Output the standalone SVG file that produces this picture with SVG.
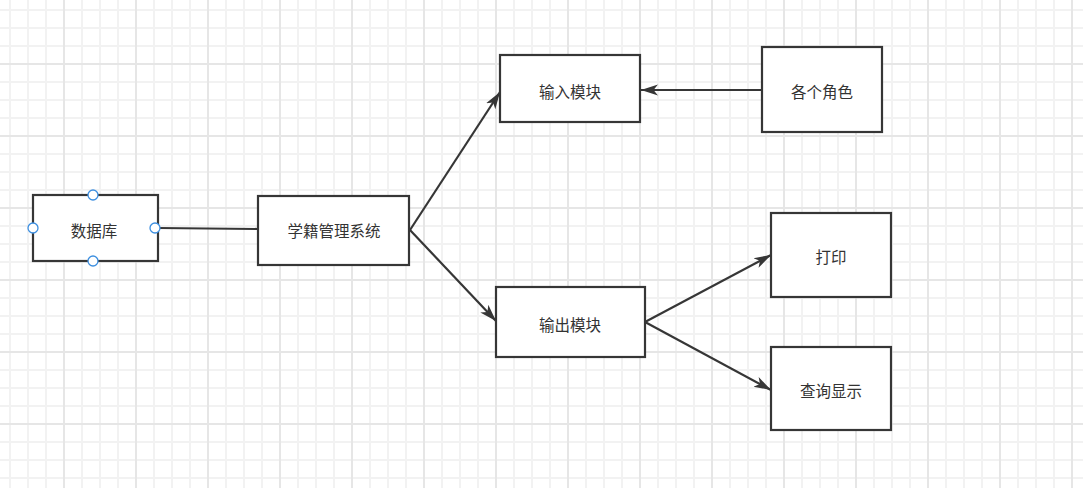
<svg xmlns="http://www.w3.org/2000/svg" width="1083" height="488" viewBox="0 0 1083 488">
  <style>
    .box { fill: #ffffff; stroke: #363636; stroke-width: 2.2; }
    .lbl { font-family: "Noto Sans CJK SC", "Noto Sans", sans-serif; font-size: 15.5px; fill: #333333; text-anchor: middle; dominant-baseline: central; }
    .edge { fill: none; stroke: #363636; stroke-width: 2.2; }
    .handle { fill: #ffffff; stroke: #3d8fe0; stroke-width: 1.3; }
  </style>
  <defs>
    <pattern id="grid" patternUnits="userSpaceOnUse" x="-8" y="-8" width="72" height="72">
      <rect x="17" y="0" width="2" height="72" fill="#f2f2f2"/>
      <rect x="35" y="0" width="2" height="72" fill="#f2f2f2"/>
      <rect x="53" y="0" width="2" height="72" fill="#f2f2f2"/>
      <rect x="0" y="17" width="72" height="2" fill="#f2f2f2"/>
      <rect x="0" y="35" width="72" height="2" fill="#f2f2f2"/>
      <rect x="0" y="53" width="72" height="2" fill="#f2f2f2"/>
      <rect x="-1" y="0" width="2" height="72" fill="#e6e6e6"/>
      <rect x="71" y="0" width="2" height="72" fill="#e6e6e6"/>
      <rect x="0" y="-1" width="72" height="2" fill="#e6e6e6"/>
      <rect x="0" y="71" width="72" height="2" fill="#e6e6e6"/>
    </pattern>
    <marker id="arrow" markerUnits="userSpaceOnUse" markerWidth="19" markerHeight="14" refX="17" refY="7" orient="auto">
      <path d="M0,1.5 L17,7 L0,12.5 L4.5,7 z" fill="#363636"/>
    </marker>
  </defs>
  <rect x="0" y="0" width="1083" height="488" fill="#ffffff"/>
  <rect x="0" y="0" width="1083" height="488" fill="url(#grid)"/>

  <g id="connectors">
    <path class="edge" d="M158,228 L258,229"/>
    <path class="edge" d="M410,230 L500,92" marker-end="url(#arrow)"/>
    <path class="edge" d="M410,230 L496,321" marker-end="url(#arrow)"/>
    <path class="edge" d="M762,90 L641,90" marker-end="url(#arrow)"/>
    <path class="edge" d="M645,322 L771,255" marker-end="url(#arrow)"/>
    <path class="edge" d="M645,322 L771,390" marker-end="url(#arrow)"/>
  </g>

  <g id="node-database">
    <rect class="box" x="33" y="195" width="125" height="66"/>
    <text class="lbl" x="94" y="230">数据库</text>
    <circle class="handle" cx="93" cy="195" r="5"/>
    <circle class="handle" cx="33" cy="228" r="5"/>
    <circle class="handle" cx="155" cy="228" r="5"/>
    <circle class="handle" cx="93" cy="261" r="5"/>
  </g>
  <g id="node-system">
    <rect class="box" x="258" y="196" width="151" height="69"/>
    <text class="lbl" x="334" y="230">学籍管理系统</text>
  </g>
  <g id="node-input">
    <rect class="box" x="500" y="55" width="140" height="67"/>
    <text class="lbl" x="570" y="91">输入模块</text>
  </g>
  <g id="node-roles">
    <rect class="box" x="762" y="47" width="120" height="85"/>
    <text class="lbl" x="822" y="91">各个角色</text>
  </g>
  <g id="node-output">
    <rect class="box" x="496" y="287" width="149" height="70"/>
    <text class="lbl" x="570" y="324">输出模块</text>
  </g>
  <g id="node-print">
    <rect class="box" x="771" y="213" width="120" height="84"/>
    <text class="lbl" x="831" y="256">打印</text>
  </g>
  <g id="node-query">
    <rect class="box" x="771" y="347" width="120" height="83"/>
    <text class="lbl" x="831" y="390">查询显示</text>
  </g>
</svg>
